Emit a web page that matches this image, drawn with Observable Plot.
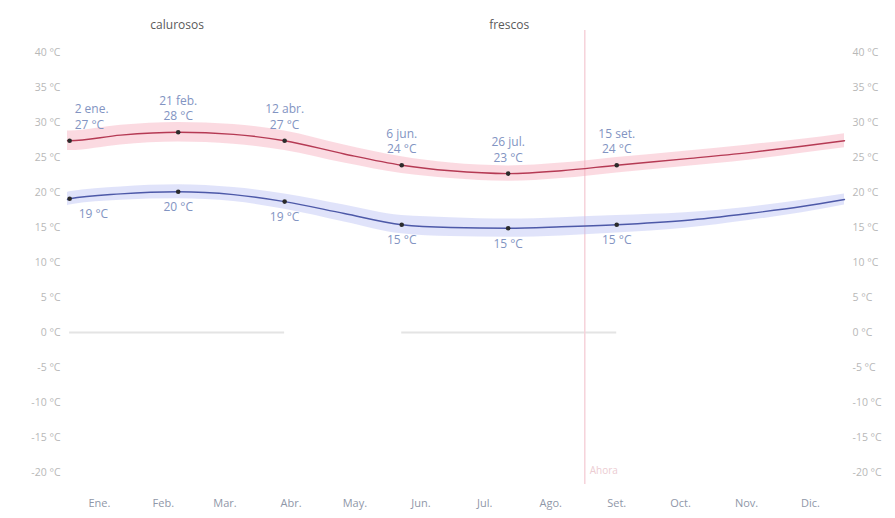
<!DOCTYPE html>
<html>
<head>
<meta charset="utf-8">
<script src="https://cdn.jsdelivr.net/npm/d3@7"></script>
<script src="https://cdn.jsdelivr.net/npm/@observablehq/plot@0.6"></script>
<style>
  html, body { margin: 0; padding: 0; background: #fff; }
  #chart svg { display: block; }
</style>
</head>
<body>
<div id="chart"></div>
<script>
// Day of year (0 = Jan 1)
const days        = [0, 1, 25, 52, 78, 102, 130, 157, 180, 207, 232, 258, 290, 320, 345, 365];
const highTemp    = [27.4, 27.4, 28.2, 28.6, 28.3, 27.4, 25.5, 23.9, 23.1, 22.7, 23.1, 23.9, 24.8, 25.7, 26.6, 27.4];
const highBandTop = [28.8, 28.8, 29.6, 30.0, 29.7, 28.8, 26.8, 25.1, 24.2, 23.8, 24.2, 25.0, 25.9, 26.8, 27.6, 28.4];
const highBandBot = [26.0, 26.0, 26.8, 27.2, 26.9, 26.0, 24.2, 22.7, 22.0, 21.6, 22.0, 22.8, 23.7, 24.6, 25.6, 26.4];
const lowTemp     = [19.0, 19.1, 19.8, 20.1, 19.7, 18.7, 17.0, 15.4, 15.0, 14.9, 15.1, 15.4, 16.0, 17.0, 18.0, 19.0];
const lowBandTop  = [20.0, 20.1, 20.8, 21.1, 20.7, 19.8, 18.2, 16.7, 16.4, 16.2, 16.4, 16.7, 17.1, 17.9, 18.9, 19.8];
const lowBandBot  = [18.1, 18.2, 18.9, 19.1, 18.7, 17.6, 15.8, 14.1, 13.7, 13.6, 13.8, 14.2, 14.9, 16.0, 17.1, 18.2];

// Annotated days
const markDays   = [1, 52, 102, 157, 207, 258];
const markDates  = ["2 ene.", "21 feb.", "12 abr.", "6 jun.", "26 jul.", "15 set."];
const markHigh   = [27.4, 28.6, 27.4, 23.9, 22.7, 23.9];
const markLow    = [19.1, 20.1, 18.7, 15.4, 14.9, 15.4];
const markHighLb = [27, 28, 27, 24, 23, 24];
const markLowLb  = [19, 20, 19, 15, 15, 15];

// Seasons
const seasonNames = ["calurosos", "frescos"];
const seasonStart = [1, 157];
const seasonEnd   = [102, 258];

// Now marker
const nowDay = 243;
const nowLabel = "Ahora";

// Axis ticks
const monthDays   = [15, 45, 74, 105, 135, 166, 196, 227, 258, 288, 319, 349];
const monthLabels = ["Ene.", "Feb.", "Mar.", "Abr.", "May.", "Jun.", "Jul.", "Ago.", "Set.", "Oct.", "Nov.", "Dic."];
const tempTicks   = [-20, -15, -10, -5, 0, 5, 10, 15, 20, 25, 30, 35, 40];

const series = days.map((d, i) => ({
  day: d, hi: highTemp[i], hiT: highBandTop[i], hiB: highBandBot[i],
  lo: lowTemp[i], loT: lowBandTop[i], loB: lowBandBot[i]
}));
const marks = markDays.map((d, i) => ({
  day: d, date: markDates[i], hi: markHigh[i], lo: markLow[i],
  hiLb: markHighLb[i], loLb: markLowLb[i]
}));
const firstMark = marks.slice(0, 1);
const otherMarks = marks.slice(1);
const seasons = seasonNames.map((n, i) => ({name: n, start: seasonStart[i], end: seasonEnd[i]}));

const curve = "monotone-x";
const labelColor = "#8294c2";
const axisColor = "#b8b8b8";

const hiText = d => `${d.date}\n${d.hiLb} °C`;
const loText = d => `${d.loLb} °C`;

const chart = Plot.plot({
  width: 895,
  height: 518,
  marginTop: 52,
  marginBottom: 46,
  marginLeft: 67,
  marginRight: 51,
  style: {fontFamily: "'Open Sans', 'Noto Sans', sans-serif", fontSize: "11px", background: "#fff"},
  x: {domain: [0, 365]},
  y: {domain: [-20, 40]},
  marks: [
    // seasons at 0 °C
    Plot.ruleY(seasons, {y: () => 0, x1: "start", x2: "end", stroke: "#e4e4e4", strokeWidth: 2}),
    Plot.text(seasons, {x: d => (d.start + d.end) / 2, frameAnchor: "top", dy: -32, text: "name",
      fill: "#5a5a5a", fontSize: 12}),
    // now line
    Plot.ruleX([nowDay], {x: d => d, stroke: "#f6d3da", strokeWidth: 1.5, insetTop: -22, insetBottom: -12}),
    Plot.text([nowLabel], {x: () => nowDay, frameAnchor: "bottom", text: d => d, textAnchor: "start",
      dx: 5, dy: 1, fill: "#ecccd2", fontSize: 10}),
    // bands
    Plot.areaY(series, {x: "day", y1: "hiB", y2: "hiT", fill: "#f6aebd", fillOpacity: 0.45, curve}),
    Plot.areaY(series, {x: "day", y1: "loB", y2: "loT", fill: "#bac2f4", fillOpacity: 0.45, curve}),
    // lines
    Plot.lineY(series, {x: "day", y: "hi", stroke: "#b53a54", strokeWidth: 1.4, curve}),
    Plot.lineY(series, {x: "day", y: "lo", stroke: "#4d59a8", strokeWidth: 1.4, curve}),
    // dots
    Plot.dot(marks, {x: "day", y: "hi", r: 2.3, fill: "#2b2b2b"}),
    Plot.dot(marks, {x: "day", y: "lo", r: 2.3, fill: "#2b2b2b"}),
    // high labels
    Plot.text(firstMark, {x: "day", y: "hi", text: hiText, textAnchor: "start", dx: 5,
      lineAnchor: "bottom", dy: -12, lineHeight: 1.3, fill: labelColor, fontSize: 12}),
    Plot.text(otherMarks, {x: "day", y: "hi", text: hiText, textAnchor: "middle",
      lineAnchor: "bottom", dy: -12, lineHeight: 1.3, fill: labelColor, fontSize: 12}),
    // low labels
    Plot.text(firstMark, {x: "day", y: "lo", text: loText, textAnchor: "start", dx: 9,
      lineAnchor: "top", dy: 11, fill: labelColor, fontSize: 12}),
    Plot.text(otherMarks, {x: "day", y: "lo", text: loText, textAnchor: "middle",
      lineAnchor: "top", dy: 11, fill: labelColor, fontSize: 12}),
    // axes
    Plot.axisY(tempTicks, {anchor: "left", tickSize: 0, tickPadding: 7, tickFormat: d => `${d} °C`,
      fill: axisColor, fontSize: 10.5, label: null}),
    Plot.axisY(tempTicks, {anchor: "right", tickSize: 0, tickPadding: 8, tickFormat: d => `${d} °C`,
      fill: axisColor, fontSize: 10.5, label: null}),
    Plot.axisX(monthDays, {anchor: "bottom", tickSize: 0, tickPadding: 27,
      tickFormat: d => monthLabels[monthDays.indexOf(d)], fill: "#8f97a8", fontSize: 11, label: null})
  ]
});
document.getElementById("chart").append(chart);
</script>
</body>
</html>
